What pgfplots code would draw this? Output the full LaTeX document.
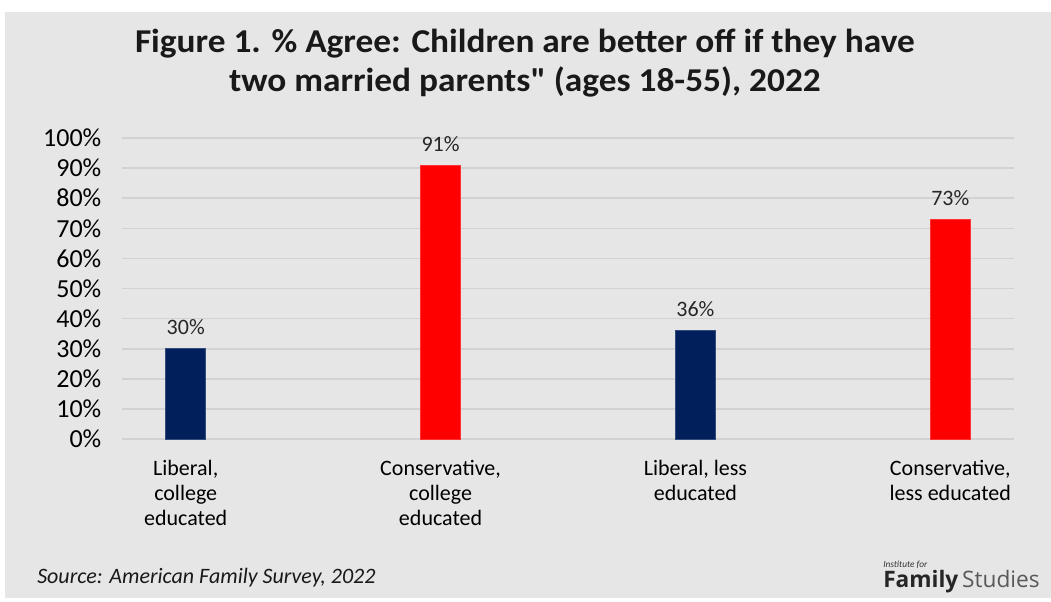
\documentclass[border=0pt]{standalone}
\usepackage{pgfplots}
\pgfplotsset{compat=1.18}
\usepackage{fontspec}
\setmainfont{Carlito}
\newfontfamily\titlefont[FakeStretch=1.06]{Carlito}
\newfontfamily\logofont{Open Sans}
\definecolor{navy}{RGB}{0,31,91}
\definecolor{barred}{RGB}{255,0,0}
\definecolor{bg}{RGB}{230,230,230}
\definecolor{gridc}{RGB}{210,210,210}
\begin{document}
\begin{tikzpicture}[x=0.75pt,y=0.75pt]
\path[use as bounding box] (0,0) rectangle (1051,601);
\fill[white] (0,0) rectangle (1051,601);
\fill[bg] (5,3) rectangle (1051,589);
% title
\node[anchor=base, inner sep=0pt, font=\titlefont\fontsize{25}{29}\selectfont\bfseries, text=black!90] at (525,548) {Figure 1. \% Agree: Children are better off if they have};
\node[anchor=base, inner sep=0pt, font=\titlefont\fontsize{25}{29}\selectfont\bfseries, text=black!90] at (525,509) {two married parents\symbol{34} (ages 18-55), 2022};
\begin{axis}[
  at={(91.5pt,121.5pt)}, anchor=south west,
  scale only axis, width=669pt, height=225.75pt,
  xmin=-0.25, xmax=3.25, ymin=0, ymax=100,
  axis line style={draw=none}, tick style={draw=none},
  ytick={0,10,...,100},
  yticklabel={\pgfmathprintnumber{\tick}\%},
  yticklabel style={font=\fontsize{19.5}{22}\selectfont, xshift=-12pt},
  ymajorgrids, grid style={gridc, line width=1.2pt},
  xtick={0,1,2,3},
  xticklabels={{Liberal,\\college\\educated},{Conservative,\\college\\educated},{Liberal, less\\educated},{Conservative,\\less educated}},
  xticklabel style={align=center, font=\fontsize{16.5}{18.75}\selectfont, yshift=-8pt},
  ybar, bar width=30pt,
  nodes near coords={\pgfmathprintnumber{\pgfplotspointmeta}\%},
  nodes near coords style={font=\fontsize{16.5}{19}\selectfont, anchor=base, inner sep=0pt, yshift=10.5pt, text=black!85},
  /pgf/number format/assume math mode=true,
]
\addplot[fill=navy, draw=navy!80!white, bar shift=0pt] coordinates {(0,30) (2,36)};
\addplot[fill=barred, draw=barred!80!white, bar shift=0pt] coordinates {(1,91) (3,73)};
\end{axis}
% source
\node[anchor=base west, inner sep=0pt, font=\fontsize{16.5}{19}\selectfont\itshape, text=black!90] at (37,18) {Source: American Family Survey, 2022};
% logo
\node[anchor=base west, inner sep=0pt, font=\fontsize{7}{8}\selectfont\itshape, text=black!80] at (883,34) {Institute for};
\node[anchor=base west, inner sep=0pt, font=\logofont\fontsize{17}{20}\selectfont, text=black!85] at (883,14) {\textbf{Family}\,{\color{black!65}Studies}};
\end{tikzpicture}
\end{document}
